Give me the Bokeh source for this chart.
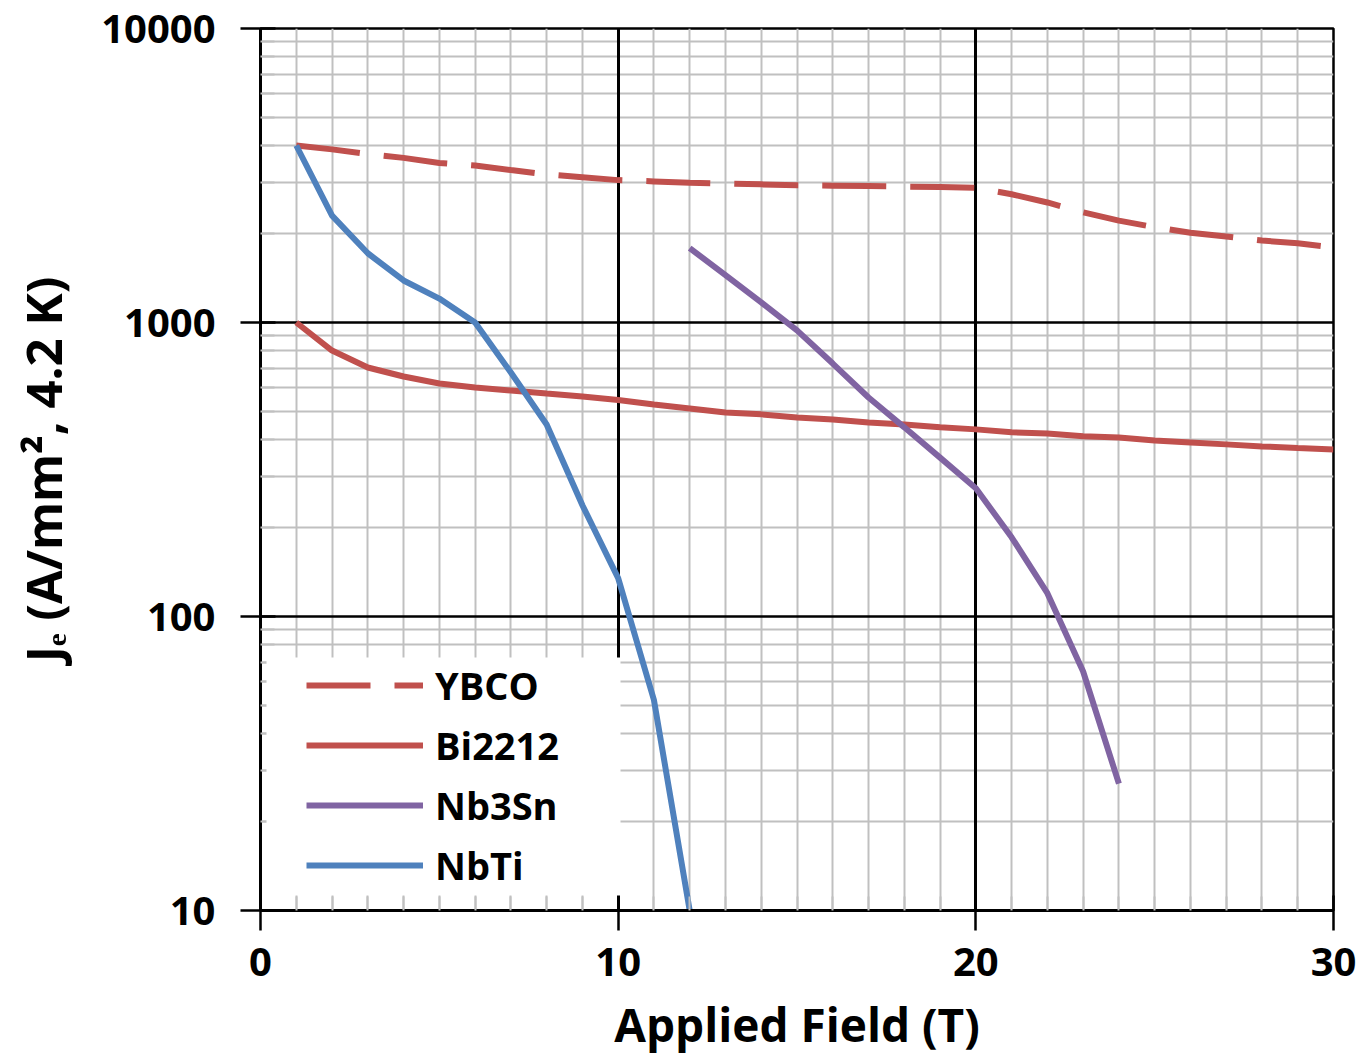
from bokeh.plotting import figure
from bokeh.models import (FixedTicker, Grid, Legend, LegendItem, BoxAnnotation,
                          Range1d, BasicTickFormatter)
from bokeh.embed import file_html
from bokeh.resources import INLINE

# ---------------- data ----------------
field_ybco = list(range(1, 31))
je_ybco = [4000, 3880, 3740, 3630, 3490, 3420, 3300, 3190, 3120, 3050,
           3020, 2990, 2970, 2950, 2930, 2920, 2910, 2900, 2890, 2870,
           2730, 2560, 2370, 2220, 2110, 2020, 1960, 1900, 1860, 1800]

field_bi2212 = list(range(1, 31))
je_bi2212 = [1000, 803, 703, 655, 620, 601, 587, 573, 560, 545,
             526, 510, 494, 487, 475, 468, 457, 450, 440, 433,
             423, 419, 410, 406, 397, 391, 385, 379, 374, 370]

field_nb3sn = list(range(12, 25))
je_nb3sn = [1790, 1450, 1170, 940, 725, 556, 440, 347, 273, 186, 120, 65, 27]

field_nbti = list(range(1, 13))
je_nbti = [4000, 2310, 1720, 1390, 1206, 1000, 676, 450, 239, 135, 52, 10]

series_names = ["YBCO", "Bi2212", "Nb3Sn", "NbTi"]
x_ticks = [0, 10, 20, 30]
y_ticks = [10, 100, 1000, 10000]
x_minor = [v for v in range(0, 31) if v not in x_ticks]
y_minor = [m * 10 ** k for k in (1, 2, 3) for m in range(2, 10)]

RED = "#c0504d"
PURPLE = "#8064a2"
BLUE = "#4f81bd"
GREY = "#c0c0c0"
FONT = "Open Sans"

p = figure(width=1360, height=1058, y_axis_type="log",
           x_range=Range1d(0, 30), y_range=Range1d(10, 10000),
           output_backend="svg", toolbar_location=None,
           min_border_left=260, min_border_right=27,
           min_border_top=28, min_border_bottom=148)
p.background_fill_color = "white"
p.border_fill_color = "white"
p.outline_line_color = "black"
p.outline_line_width = 2.5

# built-in grids: grey minor lines + black major lines
p.xgrid.ticker = FixedTicker(ticks=x_ticks, minor_ticks=x_minor)
p.xgrid.grid_line_color = "black"
p.xgrid.grid_line_width = 3
p.xgrid.minor_grid_line_color = GREY
p.xgrid.minor_grid_line_width = 2
p.ygrid.ticker = FixedTicker(ticks=y_ticks, minor_ticks=y_minor)
p.ygrid.grid_line_color = "black"
p.ygrid.grid_line_width = 2.5
p.ygrid.minor_grid_line_color = GREY
p.ygrid.minor_grid_line_width = 2

# redraw the black vertical major lines above the grey horizontal minors
gx_major = Grid(dimension=0, ticker=FixedTicker(ticks=x_ticks),
                grid_line_color="black", grid_line_width=3)
p.add_layout(gx_major)

# axes
p.xaxis.ticker = FixedTicker(ticks=x_ticks, minor_ticks=x_minor)
p.yaxis.ticker = FixedTicker(ticks=y_ticks, minor_ticks=y_minor)
p.yaxis.formatter = BasicTickFormatter(use_scientific=False)
for ax in (p.xaxis[0], p.yaxis[0]):
    ax.axis_line_color = "black"
    ax.axis_line_width = 3
    ax.major_tick_line_color = "black"
    ax.major_tick_line_width = 2.5
    ax.major_tick_in = 15
    ax.major_tick_out = 20
    ax.minor_tick_line_color = GREY
    ax.minor_tick_line_width = 2
    ax.minor_tick_in = 14
    ax.minor_tick_out = 0
    ax.major_label_text_font = FONT
    ax.major_label_text_font_style = "bold"
    ax.major_label_text_font_size = "40px"
    ax.major_label_text_color = "black"
    ax.axis_label_text_font = FONT
    ax.axis_label_text_font_style = "bold"
    ax.axis_label_text_color = "black"

p.xaxis.major_label_standoff = 17
p.yaxis.major_label_standoff = 25
p.xaxis.axis_label = "Applied Field (T)"
p.xaxis.axis_label_text_font_size = "46px"
p.xaxis.axis_label_standoff = 14
p.yaxis.axis_label = "J\u2091 (A/mm\u00b2, 4.2 K)"
p.yaxis.axis_label_text_font_size = "49px"
p.yaxis.axis_label_standoff = 22

# series
r_ybco = p.line(field_ybco, je_ybco, line_color=RED, line_width=6,
                line_dash="64 24")
r_bi = p.line(field_bi2212, je_bi2212, line_color=RED, line_width=6)
r_nb3sn = p.line(field_nb3sn, je_nb3sn, line_color=PURPLE, line_width=6)
r_nbti = p.line(field_nbti, je_nbti, line_color=BLUE, line_width=6)

# white legend background area (screen units, from the frame's bottom-left)
bg = BoxAnnotation(left=6, right=360, bottom=15, top=253,
                   left_units="screen", right_units="screen",
                   bottom_units="screen", top_units="screen",
                   fill_color="white", fill_alpha=1.0, line_color=None)
p.add_layout(bg)

legend = Legend(items=[LegendItem(label=n, renderers=[r]) for n, r in
                       zip(series_names, [r_ybco, r_bi, r_nb3sn, r_nbti])],
                location=(46, 19), margin=0, padding=5, spacing=8,
                glyph_width=117, glyph_height=52, label_height=52,
                label_standoff=12,
                label_text_font=FONT, label_text_font_style="bold",
                label_text_font_size="38px", label_text_color="black",
                border_line_color=None, background_fill_color="white",
                background_fill_alpha=1.0)
p.add_layout(legend)

open("out.html", "w").write(file_html(p, INLINE))
